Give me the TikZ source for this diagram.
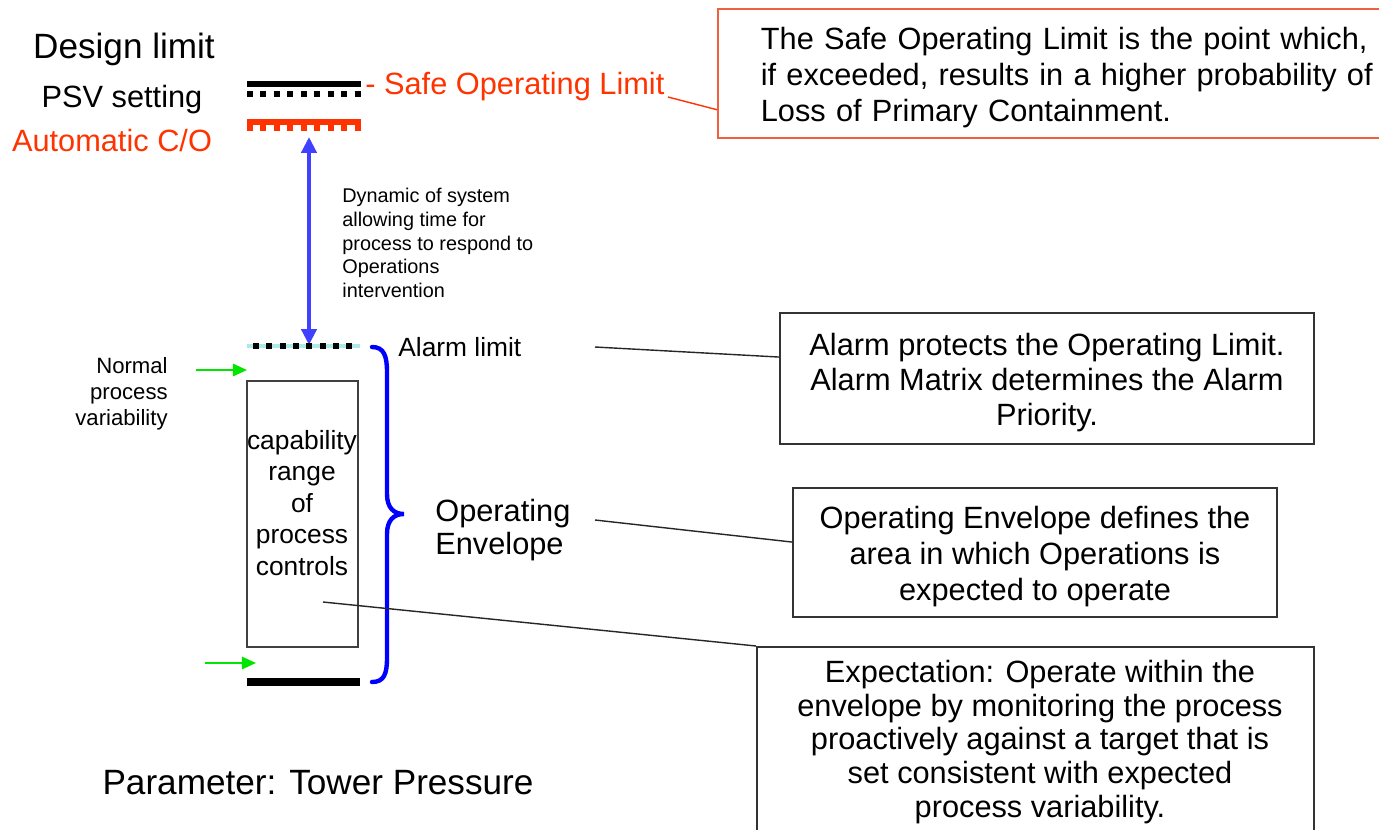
\documentclass[tikz,border=0pt]{standalone}
\usepackage{fontspec}
\setmainfont{Liberation Sans}
\usepackage{tikz}
\usetikzlibrary{arrows.meta,calc}

\definecolor{solred}{RGB}{255,51,0}
\definecolor{boxred}{RGB}{240,96,64}
\definecolor{arrowblue}{RGB}{64,64,255}
\definecolor{braceblue}{RGB}{0,0,255}
\definecolor{normgreen}{RGB}{0,230,0}
\definecolor{alarmcyan}{RGB}{175,232,232}

\newcommand{\dropline}{\rule{0pt}{17.3pt}}

\begin{document}
\begin{tikzpicture}[x=0.02cm, y=-0.02cm,
  limitbar/.style={line width=3.4pt},
  limitdots/.style={line width=3.4pt, dash pattern=on 3.4pt off 4.25pt},
  notebox/.style={draw=black!80, line width=1.1pt, align=center, font=\fontsize{17.5}{19.8}\selectfont},
  leader/.style={draw=black!85, line width=0.8pt},
  varyarrow/.style={draw=normgreen, line width=1.3pt, -{Triangle[length=8pt,width=7pt]}}]

\useasboundingbox (0,0) rectangle (1379,829);

\node (design) [anchor=base, font=\fontsize{20}{24}\selectfont] at (124,58) {Design limit};
\node (psv) [anchor=base, font=\fontsize{17.5}{20}\selectfont] at (122,107) {PSV setting};
\node (autoco) [anchor=base, text=solred, font=\fontsize{17.5}{20}\selectfont] at (112,151) {Automatic C/O};

\draw[limitbar] (247,84) -- (361,84); % design limit
\draw[limitdots] (247,94) -- (361,94); % psv setting
\draw[limitbar, draw=solred] (247,122) -- (361,122); % automatic c/o
\draw[limitdots, draw=solred] (247,128) -- (361,128);

\node (sol) [anchor=base west, inner sep=0pt, text=solred, font=\fontsize{17.5}{20}\selectfont] at (365,94) {- Safe Operating Limit};
\coordinate (solend) at (668,97);

\node (solbox) [draw=boxred, line width=1pt, anchor=north west, minimum height=2.58cm, inner xsep=0.86cm, text width=12.8cm, align=left, font=\fontsize{17.5}{20.4}\selectfont] at (717,8) {\dropline The Safe Operating Limit is the point which,\\ if exceeded, results in a higher probability of\\ Loss of Primary Containment.};
\draw[draw=solred, line width=0.8pt] (solend) -- ($(solbox.south west)+(0,-29)$);

\coordinate (dyntop) at (309,137);
\coordinate (dynbot) at (309,345);
\draw[arrowblue, line width=2.3pt, {Triangle[length=9pt,width=8.5pt]}-{Triangle[length=9pt,width=8.5pt]}] (dyntop) -- (dynbot);
\node (dyntext) [anchor=west, align=left, inner sep=0pt, font=\fontsize{11.3}{13.6}\selectfont] at (342,243) {Dynamic of system\\ allowing time for\\ process to respond to\\ Operations\\ intervention};

\draw[alarmcyan, line width=2.3pt] (247,346) -- (360,346); % alarm limit
\draw[limitdots, dash pattern=on 3.4pt off 4.2pt] (253,346) -- (353,346);
\node (alarm) [anchor=west, inner sep=0pt, font=\fontsize{15}{18}\selectfont] at (398,347) {Alarm limit};

\node (normal) [anchor=east, align=right, inner sep=0pt, font=\fontsize{12.6}{14.7}\selectfont] at (168,394) {Normal\\ process\\ variability};
\coordinate (varyatail) at (196,370);
\coordinate (varyahead) at (247,370);
\coordinate (varybtail) at (205,663);
\coordinate (varybhead) at (256,663);
\draw[varyarrow] (varyatail) -- (varyahead);
\draw[varyarrow] (varybtail) -- (varybhead);

\node (capbox) [draw=black!75, line width=0.8pt, minimum width=2.22cm, minimum height=5.32cm, inner sep=0pt] at (302.5,514) {};
\node (captext) [align=center, inner sep=0pt, font=\fontsize{15}{17.9}\selectfont] at (302,503) {capability\\ range\\ of\\ process\\ controls};
\coordinate (capend) at (323,602);

\draw[limitbar, line width=4pt] (247,682) -- (360,682); % low limit

\draw[braceblue, line width=2.5pt, line cap=round] (372,347) .. controls (384,347) and (387,356) .. (387,372) -- (387,494) .. controls (387,508) and (394,514) .. (404,514) .. controls (394,514) and (387,520) .. (387,534) -- (387,658) .. controls (387,674) and (384,682) .. (372,682);
\node (openv) [anchor=west, align=left, inner sep=0pt, font=\fontsize{17.5}{19.3}\selectfont] at (435,530) {Operating\\ Envelope};

\node (alarmbox) [notebox, minimum width=10.68cm, minimum height=2.62cm] at (1047,378.5) {\dropline Alarm protects the Operating Limit.\\ Alarm Matrix determines the Alarm\\ Priority.};
\node (envbox) [notebox, minimum width=9.68cm, minimum height=2.58cm, font=\fontsize{17.5}{20.4}\selectfont] at (1035,552.5) {\dropline Operating Envelope defines the\\ area in which Operations is\\ expected to operate};
\node (expbox) [draw=black!80, line width=1.1pt, anchor=north, minimum width=11.14cm, minimum height=4.6cm] at (1035.5,646) {};
\node (exptext) [align=center, font=\fontsize{17.5}{19.3}\selectfont] at (1040,742) {Expectation: Operate within the\\ envelope by monitoring the process\\ proactively against a target that is\\ set consistent with expected\\ process variability.};

\coordinate (alarmend) at (595,347);
\coordinate (envend) at (595,520);
\draw[leader] (alarmend) -- ($(alarmbox.north west)+(0,45)$);
\draw[leader] (envend) -- ($(envbox.north west)+(0,55)$);
\draw[leader] (capend) -- (expbox.north west);

\node (param) [font=\fontsize{20}{24}\selectfont] at (318,783) {Parameter: Tower Pressure};

\end{tikzpicture}
\end{document}
